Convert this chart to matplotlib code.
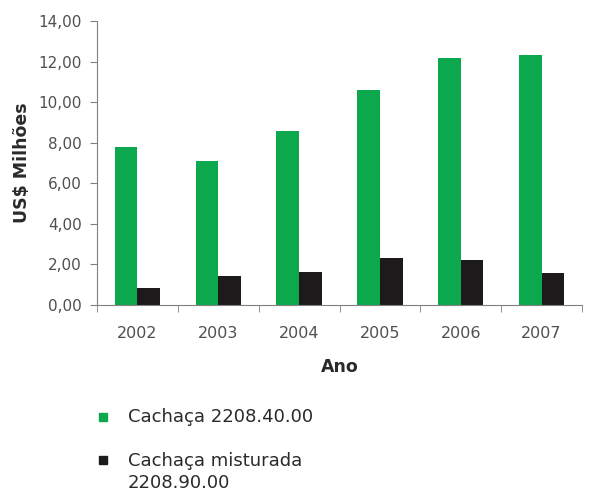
import numpy as np
import matplotlib
matplotlib.use("Agg")
import matplotlib.pyplot as plt
from matplotlib.patches import Rectangle

anos = ["2002", "2003", "2004", "2005", "2006", "2007"]
cachaca = [7.8, 7.1, 8.6, 10.6, 12.2, 12.3]
misturada = [0.85, 1.45, 1.65, 2.3, 2.2, 1.6]
yticks = [0, 2, 4, 6, 8, 10, 12, 14]
nomes = ["Cachaça 2208.40.00", "Cachaça misturada\n2208.90.00"]

verde = "#0ba84e"
preto = "#1c1a1a"
cinza = "#505050"
escuro = "#2a2a2a"

W, H = 609, 493
fig = plt.figure(figsize=(W / 100, H / 100), dpi=100)
ax = fig.add_axes([97 / W, 1 - 305 / H, 485 / W, 284 / H])

x = np.arange(len(anos))
w = 0.28
ax.bar(x - w / 2, cachaca, w, color=verde)
ax.bar(x + w / 2, misturada, w, color=preto)

ax.set_xlim(-0.5, len(anos) - 0.5)
ax.set_ylim(0, 14)
ax.set_yticks(yticks)
ax.set_yticklabels(["{:.2f}".format(v).replace(".", ",") for v in yticks])
ax.set_xticks(x)
ax.set_xticklabels(anos)
ax.set_xticks(np.arange(-0.5, len(anos)), minor=True)
ax.tick_params(axis="x", which="major", length=0, pad=15, labelsize=11.5, labelcolor=cinza)
ax.tick_params(axis="x", which="minor", length=5, color="#808080")
ax.tick_params(axis="y", length=5, color="#808080", pad=6, labelsize=11, labelcolor=cinza)

for s in ["top", "right"]:
    ax.spines[s].set_visible(False)
for s in ["left", "bottom"]:
    ax.spines[s].set_color("#808080")

ax.set_ylabel("US$ Milhões", fontsize=12.5, fontweight="bold", color=escuro, labelpad=5)
ax.set_xlabel("Ano", fontsize=12.5, fontweight="bold", color=escuro, labelpad=12)

# legenda desenhada a mao (quadrado alinhado com a primeira linha)
def px(xp, yp):
    return xp / W, 1 - yp / H

cores = [verde, preto]
centros = [416.5, 460]
for cor, nome, yc in zip(cores, nomes, centros):
    fig.patches.append(Rectangle(px(99, yc + 4), 8 / W, 8 / H, color=cor,
                                 transform=fig.transFigure, figure=fig))
    for i, linha in enumerate(nome.split("\n")):
        fig.text(*px(128, yc + 6 + 22 * i), linha, fontsize=13, color=escuro, va="baseline")

fig.savefig("out.png", dpi=100)
